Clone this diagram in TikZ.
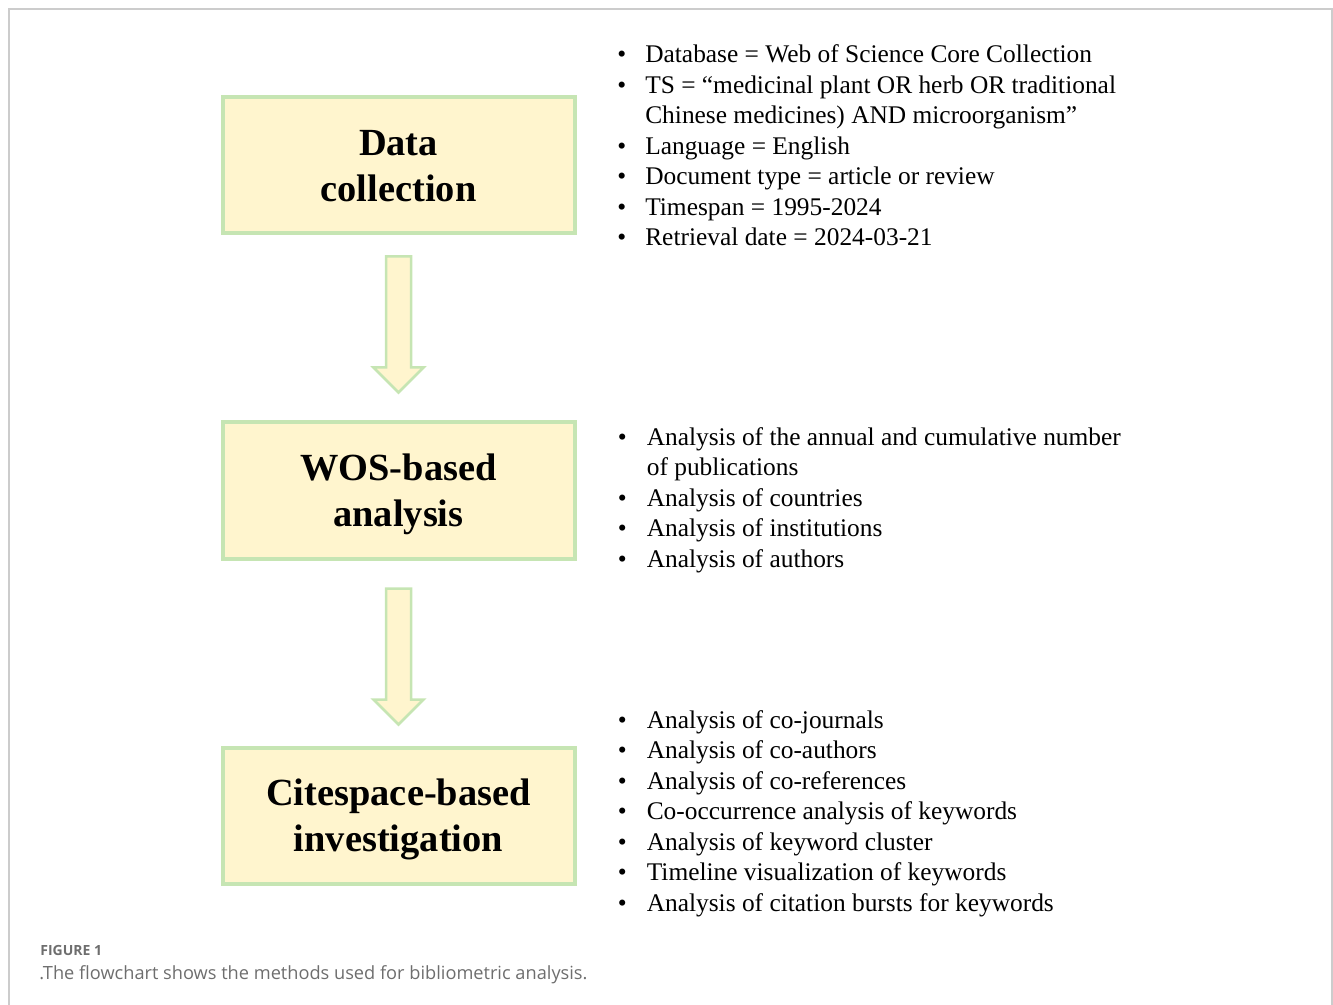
\documentclass[tikz,border=0pt]{standalone}
\usepackage{fontspec}
\setmainfont{Liberation Serif}
\newfontfamily\capfont{Open Sans}
\usetikzlibrary{positioning,calc}
\definecolor{BoxFill}{HTML}{FFF5CE}
\definecolor{BoxLine}{HTML}{C6E5B3}
\definecolor{FrameGray}{HTML}{CCCCCC}
\definecolor{CapGray}{HTML}{6E6E6E}

\begin{document}
\begin{tikzpicture}[
x=0.5pt,y=-0.5pt,
node distance=92.5pt,
box/.style={draw=BoxLine,fill=BoxFill,line width=2pt,align=center,text depth=0pt,minimum width=176pt,minimum height=68pt,font=\fontsize{19.2}{23}\selectfont\bfseries},
blockarr/.style={draw=BoxLine,fill=BoxFill,line width=1.25pt,line join=miter},
list/.style={anchor=base west,inner sep=0pt,align=left,font=\fontsize{12.7}{15.25}\selectfont}
]
\useasboundingbox (0,0) rectangle (1333,1005);
\draw[FrameGray,line width=0.6pt] (9,1005) |- (1332,9) -- (1332,1005);

% main steps
\node[box] (dc) at (398.5,165.5) {Data\\collection};
\node[box,below=of dc] (wos) {WOS-based\\analysis};
\node[box,below=of wos] (cit) {Citespace-based\\investigation};

% block arrows
\draw[blockarr] ($(dc.south)+(-12.5,21)$) -- ($(dc.south)+(12.5,21)$) -- ($(wos.north)+(12.5,-53)$) -- ($(wos.north)+(25,-53)$) -- ($(wos.north)+(0,-28)$) -- ($(wos.north)+(-25,-53)$) -- ($(wos.north)+(-12.5,-53)$) -- cycle;
\draw[blockarr] ($(wos.south)+(-12.5,28)$) -- ($(wos.south)+(12.5,28)$) -- ($(cit.north)+(12.5,-46)$) -- ($(cit.north)+(25,-46)$) -- ($(cit.north)+(0,-21)$) -- ($(cit.north)+(-25,-46)$) -- ($(cit.north)+(-12.5,-46)$) -- cycle;

% bullet lists
\node[list] (dcl) at (617,63) {\begin{tabular}[t]{@{}l@{\hspace{9.5pt}}l@{}}
\textbullet & Database = Web of Science Core Collection\\
\textbullet & TS = “medicinal plant OR herb OR traditional\\
 & Chinese medicines) AND microorganism”\\
\textbullet & Language = English\\
\textbullet & Document type = article or review\\
\textbullet & Timespan = 1995-2024\\
\textbullet & Retrieval date = 2024-03-21
\end{tabular}};
\node[list] (wosl) at (617.5,445) {\begin{tabular}[t]{@{}l@{\hspace{10pt}}l@{}}
\textbullet & Analysis of the annual and cumulative number\\
 & of publications\\
\textbullet & Analysis of countries\\
\textbullet & Analysis of institutions\\
\textbullet & Analysis of authors
\end{tabular}};
\node[list] (citl) at (617.5,728) {\begin{tabular}[t]{@{}l@{\hspace{10pt}}l@{}}
\textbullet & Analysis of co-journals\\
\textbullet & Analysis of co-authors\\
\textbullet & Analysis of co-references\\
\textbullet & Co-occurrence analysis of keywords\\
\textbullet & Analysis of keyword cluster\\
\textbullet & Timeline visualization of keywords\\
\textbullet & Analysis of citation bursts for keywords
\end{tabular}};

% caption
\node[anchor=base west,inner sep=0pt,text=CapGray,font=\capfont\bfseries\fontsize{7}{8}\selectfont] (fig) at (40,955) {FIGURE 1};
\node[anchor=base west,inner sep=0pt,text=CapGray,font=\capfont\fontsize{9.1}{10}\selectfont] (cap) at (39,979) {.The flowchart shows the methods used for bibliometric analysis.};
\end{tikzpicture}
\end{document}
